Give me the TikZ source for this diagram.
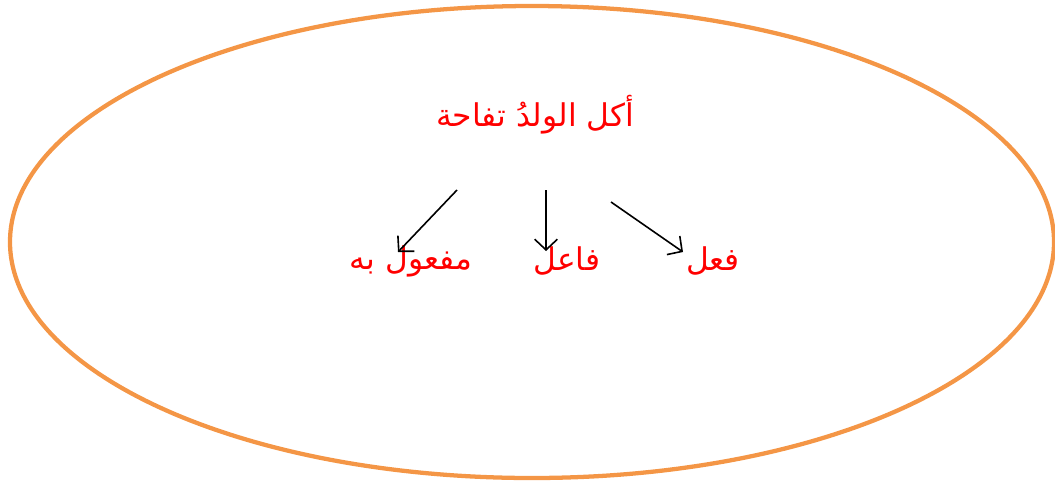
\documentclass[tikz,border=0pt]{standalone}
\usepackage{fontspec}
\usepackage{tikz}
\usetikzlibrary{positioning, arrows.meta}
\TeXXeTstate=1
\newfontfamily\arabicfont[Script=Arabic]{DejaVu Sans}
\definecolor{ring}{RGB}{244,150,70}
\tikzset{
  word/.style={text=red,font=\arabicfont\fontsize{23.5}{26}\selectfont,inner sep=1pt},
  arr/.style={-{Straight Barb[length=8pt,width=17pt]},line width=1.2pt},
}

\begin{document}
\begin{tikzpicture}[x=0.75pt,y=-0.75pt]
  \useasboundingbox (0,0) rectangle (1055,483);
  \draw[ring,line width=3.2pt] (532,242) ellipse [x radius=522,y radius=236];
  \node[word] (sentence) at (535,115) {\beginR أكل الولدُ تفاحة\endR};
  \node[word] (obj) at (411,261) {\beginR مفعول به\endR};
  \node[word] (subj) at (567,261) {\beginR فاعل\endR};
  \node[word] (verb) at (713,261) {\beginR فعل\endR};
  % arrow ends
  \coordinate (s1) at (457,190);
  \coordinate (s2) at (546,190);
  \coordinate (s3) at (611,202);
  \coordinate (t1) at (398,252);
  \coordinate (t2) at (546,251);
  \coordinate (t3) at (683,252);
  \draw[arr] (s1) -- (t1);
  \draw[arr] (s2) -- (t2);
  \draw[arr] (s3) -- (t3);
\end{tikzpicture}
\end{document}
